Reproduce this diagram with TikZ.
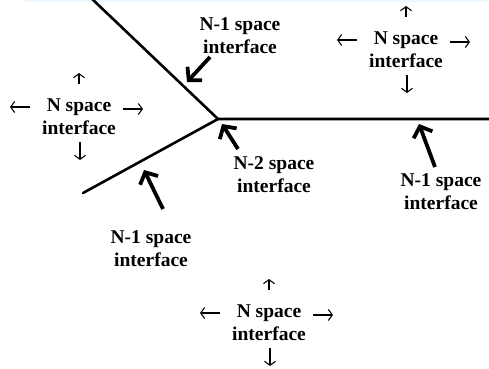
\documentclass[tikz,border=0pt]{standalone}
\usepackage{fontspec}
\setmainfont{Liberation Serif}
\usetikzlibrary{arrows.meta}
\tikzset{
  lbl/.style={font=\fontsize{19.5}{23}\selectfont\bfseries, align=center, inner sep=0pt},
  wall/.style={line width=2.6pt, line cap=round, line join=round},
  pointer/.style={line width=3.8pt, -{Straight Barb[length=9pt,width=20pt,line width=3.8pt]}},
  spread/.style={line width=1.1pt, -{Straight Barb[length=4pt,width=11pt,line width=1.1pt]}},
}
\begin{document}
\begin{tikzpicture}[x=1pt,y=-1pt]
\useasboundingbox (0,0) rectangle (489,368);
\fill[cyan!8] (25,0) rectangle (489,1.5);
% the three N-1 interfaces meeting at the N-2 one
\coordinate (j) at (218,119);
\coordinate (wup) at (90,-3);
\coordinate (wlo) at (83,193);
\coordinate (wrt) at (492,119);
\draw[wall] (wup) -- (j) -- (wrt);
\draw[wall] (wlo) -- (j);
% pointers
\coordinate (a1) at (210,57);  \coordinate (h1) at (187,82);
\coordinate (a2) at (238,149); \coordinate (h2) at (222,124);
\coordinate (a3) at (163,209); \coordinate (h3) at (144,170);
\coordinate (a4) at (435,167); \coordinate (h4) at (419,124);
\draw[pointer] (a1) -- (h1);
\draw[pointer] (a2) -- (h2);
\draw[pointer] (a3) -- (h3);
\draw[pointer] (a4) -- (h4);
% labels
\node[lbl] (nm1up) at (240,36) {N-1 space\\interface};
\node[lbl] (nm2)   at (274,175) {N-2 space\\interface};
\node[lbl] (nm1rt) at (441,192) {N-1 space\\interface};
\node[lbl] (nm1lo) at (151,249) {N-1 space\\interface};
\foreach \nm/\cx/\cy in {nl/79/117, nr/406/50, nb/269/323} {
  \node[lbl] (\nm) at (\cx,\cy) {N space\\interface};
  \draw[spread] (\cx,\cy-33) -- (\cx,\cy-44);
  \draw[spread] (\cx+1,\cy+25) -- (\cx+1,\cy+43);
  \draw[spread] (\cx-49,\cy-10) -- (\cx-69,\cy-10);
  \draw[spread] (\cx+44,\cy-8) -- (\cx+64,\cy-8);
}
\end{tikzpicture}
\end{document}
